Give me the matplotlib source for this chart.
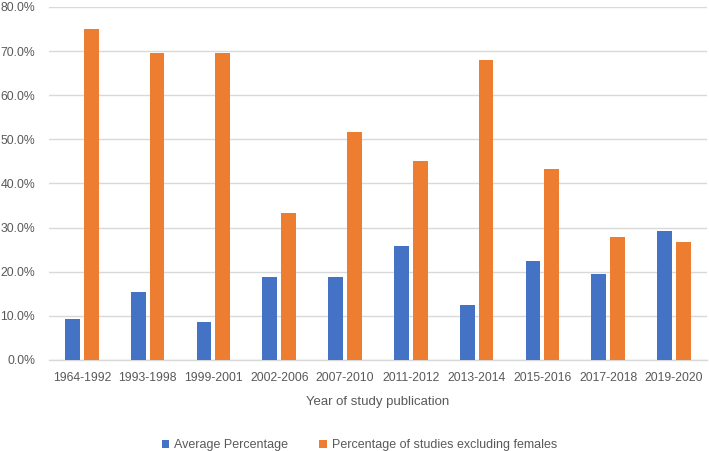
import numpy as np
import matplotlib.pyplot as plt
from matplotlib.ticker import FuncFormatter

periods = ["1964-1992", "1993-1998", "1999-2001", "2002-2006", "2007-2010",
           "2011-2012", "2013-2014", "2015-2016", "2017-2018", "2019-2020"]
avg_pct = [9.2, 15.5, 8.7, 18.9, 18.9, 25.9, 12.5, 22.4, 19.5, 29.2]
excl_pct = [75.0, 69.5, 69.5, 33.3, 51.7, 45.0, 67.9, 43.2, 27.8, 26.8]

BLUE = "#4472C4"
ORANGE = "#ED7D31"
TEXT = "#595959"
GRID = "#D9D9D9"

plt.rcParams["font.family"] = ["Liberation Sans", "DejaVu Sans"]

fig = plt.figure(figsize=(7.09, 4.51), dpi=100)
ax = fig.add_axes([0.069, 0.2018, 0.928, 0.7827])

x = np.arange(len(periods))
w = 0.225
off = 0.143
ax.bar(x - off, avg_pct, width=w, color=BLUE, label="Average Percentage", zorder=3)
ax.bar(x + off, excl_pct, width=w, color=ORANGE,
       label="Percentage of studies excluding females", zorder=3)

ax.set_xlim(-0.5, len(periods) - 0.5)
ax.set_ylim(0, 80)
ax.set_yticks(np.arange(0, 81, 10))
ax.yaxis.set_major_formatter(FuncFormatter(lambda v, p: f"{v:.1f}%"))
ax.set_xticks(x)
ax.set_xticklabels(periods)

ax.grid(axis="y", color=GRID, linewidth=1.0, zorder=0)
for s in ["top", "right", "left"]:
    ax.spines[s].set_visible(False)
ax.spines["bottom"].set_color(GRID)
ax.spines["bottom"].set_linewidth(1.0)
ax.tick_params(axis="both", length=0, colors=TEXT, labelsize=8.8)
ax.tick_params(axis="x", pad=9)
ax.tick_params(axis="y", pad=10)

ax.set_xlabel("Year of study publication", color=TEXT, fontsize=9.5, labelpad=8)

fig.legend(loc="lower center", bbox_to_anchor=(0.507, -0.025), ncol=2, frameon=False,
           fontsize=9, labelcolor=TEXT, handlelength=0.6, handleheight=0.6,
           handletextpad=0.4, columnspacing=2.5)

fig.savefig("out.png", dpi=100)
